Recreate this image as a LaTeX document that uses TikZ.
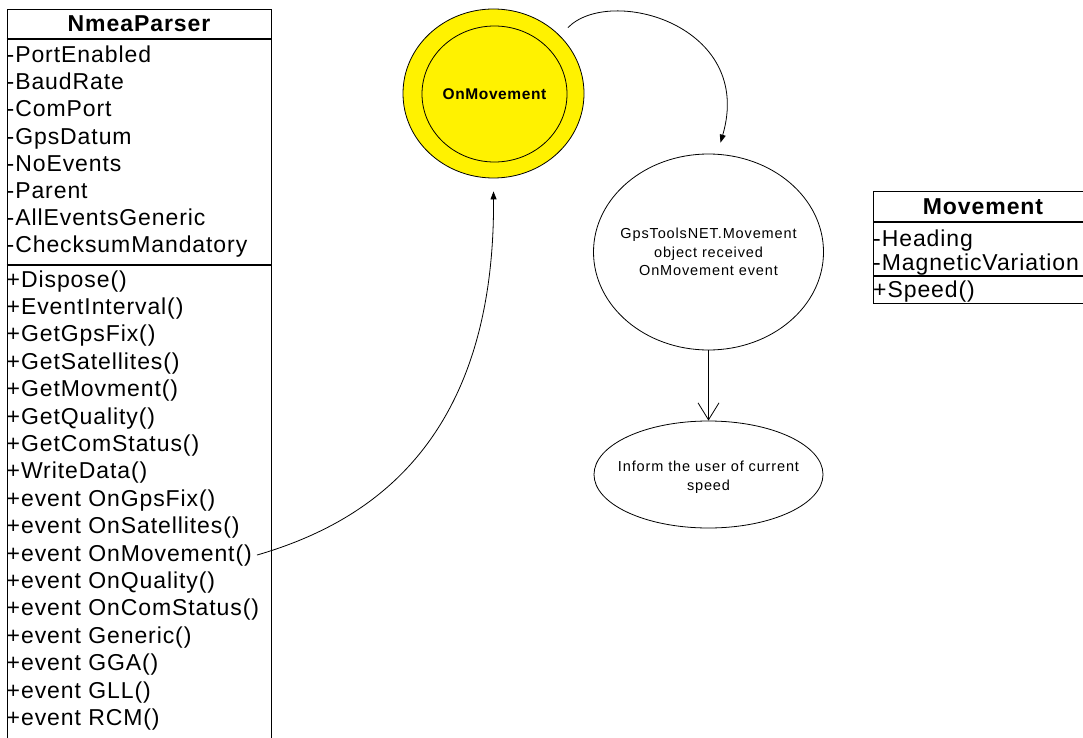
\documentclass[tikz,border=0pt]{standalone}
\usepackage{fontspec}
\setmainfont{Liberation Sans}
\newfontfamily\umlfont[LetterSpace=4]{Liberation Sans}
\newfontfamily\notefont[LetterSpace=6]{Liberation Sans}
\usetikzlibrary{shapes.geometric,arrows.meta,calc}

\begin{document}
\begin{tikzpicture}[x=1pt,y=-1pt,
  boxline/.style={line width=1.1pt},
  classframe/.style={draw, boxline, anchor=north west, inner sep=0pt},
  member/.style={anchor=base west, inner sep=0pt, font=\umlfont\fontsize{23}{27}\selectfont},
  classname/.style={inner sep=0pt, font=\umlfont\bfseries\fontsize{23}{27}\selectfont},
  flowline/.style={line width=0.8pt},
  state/.style={ellipse, draw, line width=0.8pt, inner sep=0pt},
  statetext/.style={align=center, inner sep=0pt, font=\notefont\fontsize{14.5}{18.5}\selectfont},
  filledtip/.style={-{Triangle[length=8pt,width=6pt]}},
  opentip/.style={-{Straight Barb[length=17pt,width=21pt]}},
]
\useasboundingbox (0,0) rectangle (1083,738);
\clip (0,0) rectangle (1083,738);

% ---- class NmeaParser ----
\node[classframe, minimum width=264.5pt, minimum height=760pt] (nmea) at (6.5,9) {};
\draw[boxline] ($(nmea.north west)+(0,30)$) -- ($(nmea.north east)+(0,30)$);
\draw[boxline] ($(nmea.north west)+(0,256)$) -- ($(nmea.north east)+(0,256)$);
\node[classname] (nmeaname) at (139,24) {NmeaParser};
\foreach [count=\i] \t in {-PortEnabled,-BaudRate,-ComPort,-GpsDatum,-NoEvents,-Parent,-AllEventsGeneric,-ChecksumMandatory}
  \node[member] (a\i) at (6.5,{62.5+27.2*(\i-1)}) {\t};
\foreach [count=\i] \t in {+Dispose(),+EventInterval(),+GetGpsFix(),+GetSatellites(),+GetMovment(),+GetQuality(),+GetComStatus(),+WriteData(),+event OnGpsFix(),+event OnSatellites(),+event OnMovement(),+event OnQuality(),+event OnComStatus(),+event Generic(),+event GGA(),+event GLL(),+event RCM()}
  \node[member] (m\i) at (6.5,{287+27.4*(\i-1)}) {\t};

% ---- class Movement ----
\node[classframe, minimum width=230pt, minimum height=112pt] (mov) at (873,191) {};
\draw[boxline] ($(mov.north west)+(0,31)$) -- ($(mov.north east)+(0,31)$);
\draw[boxline] ($(mov.north west)+(0,85)$) -- ($(mov.north east)+(0,85)$);
\node[classname] (movname) at (983,206.5) {Movement};
\node[member] (h1) at (873,246) {-Heading};
\node[member] (h2) at (873,270) {-MagneticVariation};
\node[member] (h3) at (873,297) {+Speed()};

% ---- states ----
\node[state, fill=yellow, minimum width=181pt, minimum height=169pt] (outer) at (493.5,93.5) {};
\node[state, minimum width=145pt, minimum height=136pt] (inner) at (494.5,94) {};
\node[inner sep=0pt, font=\umlfont\bfseries\fontsize{15.5}{18}\selectfont] (onmov) at (inner.center) {OnMovement};

\node[state, minimum width=230pt, minimum height=196pt] (gps) at (708.5,252) {};
\node[statetext] (gpstext) at (gps.center) {GpsToolsNET.Movement\\object received\\OnMovement event};

\node[state, minimum width=229pt, minimum height=107pt] (inform) at (708.5,474.5) {};
\node[statetext] (informtext) at (708.5,477) {Inform the user of current\\speed};

% ---- transitions ----
\draw[flowline, filledtip] ([xshift=5pt]m11.east) .. controls (360,525) and (495,450) .. ([yshift=-13pt]outer.south);
\draw[flowline, filledtip] ([shift={(9pt,7pt)}]outer.42) .. controls (610,-15) and (755,25) .. ([shift={(12pt,11pt)}]gps.north);
\draw[flowline, opentip] (gps.south) -- (inform.north);
\end{tikzpicture}
\end{document}
